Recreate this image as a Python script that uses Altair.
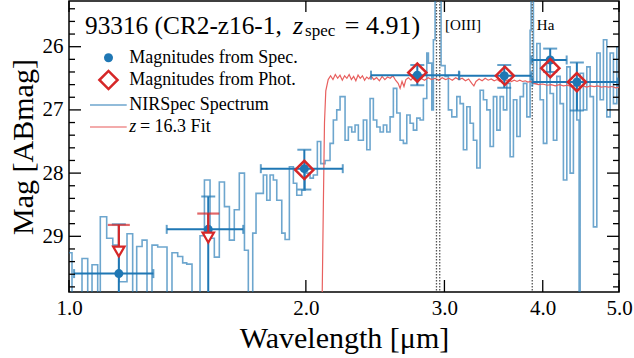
import altair as alt
import pandas as pd

FONT = "Liberation Serif"
W, H = 550, 291
XDOM = [1.0, 5.0]
YDOM = [25.277, 29.881]
BLUE = "#1f77b4"
RED = "#d62728"
FITC = "#e8605f"

# ---------------- data ----------------
spec_wave = [0.97, 1.0088, 1.0388, 1.0563, 1.0697, 1.0876, 1.0959, 1.1166, 1.1367, 1.1576,
             1.185, 1.2048, 1.2191, 1.2385, 1.2564, 1.2749, 1.2964, 1.3322, 1.3517, 1.3745,
             1.3947, 1.4113, 1.4333, 1.4673, 1.4863, 1.511, 1.530, 1.5525, 1.576, 1.599,
             1.622, 1.646, 1.671, 1.690, 1.712, 1.7286, 1.766, 1.7837, 1.801, 1.8185,
             1.8367, 1.8638, 1.8819, 1.9057, 1.9281, 1.9474, 1.9761, 1.9953, 2.0246, 2.0442,
             2.0683, 2.089, 2.1155, 2.1466, 2.1674, 2.1891, 2.2104, 2.243, 2.2648, 2.2874,
             2.3096, 2.332, 2.3664, 2.3901, 2.4133, 2.4367, 2.4611, 2.485, 2.5091, 2.5342,
             2.5588, 2.5836, 2.6095, 2.6348, 2.6604, 2.687, 2.7131, 2.7394, 2.7668, 2.7937,
             2.8208, 2.849, 2.8624, 2.891, 2.9046, 2.9191, 2.9706, 3.0058, 3.0348, 3.0652,
             3.1105, 3.1407, 3.1712, 3.2029, 3.234, 3.2654, 3.298, 3.3301, 3.3624, 3.396,
             3.429, 3.4623, 3.4969, 3.5309, 3.5652, 3.6008, 3.6358, 3.6711, 3.7078, 3.7438,
             3.7802, 3.818, 3.8547, 3.866, 3.8921, 3.931, 3.9692, 4.0077, 4.0478, 4.0871,
             4.1268, 4.1681, 4.2085, 4.2494, 4.2919, 4.3335, 4.3755, 4.4193, 4.4492, 4.4623,
             4.5055, 4.5506, 4.5948, 4.6394, 4.6858, 4.7313, 4.7772, 4.825, 4.8718, 4.9191,
             4.9683, 5.05]
spec_mag = [29.26, 31.0, 29.35, 31.0, 29.45, 31.0, 28.69, 29.03, 29.14, 29.72,
            28.96, 31.0, 29.16, 29.06, 31.0, 29.14, 29.17, 31.0, 29.26, 29.32,
            29.42, 29.44, 31.0, 28.99, 28.11, 29.03, 29.33, 28.14, 28.53, 29.06,
            28.58, 28.0, 29.22, 31.0, 28.95, 28.32, 28.03, 28.43, 28.03, 28.11,
            28.43, 28.95, 29.05, 27.90, 28.16, 28.35, 28.27, 28.0, 28.08, 28.03,
            27.50, 27.85, 27.80, 27.53, 27.16, 27.0, 26.79, 27.48, 27.27, 27.35,
            27.24, 27.48, 27.16, 27.63, 26.82, 27.16, 27.27, 27.35, 27.24, 27.35,
            27.11, 26.66, 27.05, 27.48, 27.53, 27.08, 27.21, 27.32, 27.13, 27.16,
            26.82, 26.10, 26.26, 27.0, 25.89, 24.5, 26.3, 26.47, 27.0, 27.11,
            26.79, 26.90, 27.63, 26.95, 27.21, 27.48, 27.92, 26.69, 26.84, 27.0,
            27.58, 26.79, 27.32, 26.79, 27.0, 26.58, 27.74, 26.84, 27.42, 26.79,
            26.58, 27.11, 25.74, 24.5, 26.58, 25.95, 26.84, 27.53, 26.26, 26.74,
            27.48, 26.47, 26.90, 28.11, 26.32, 28.0, 26.63, 27.16, 31.0, 26.42,
            27.0, 26.32, 26.79, 28.85, 26.10, 26.84, 25.89, 27.11, 26.10, 26.90,
            26.0, 26.0]

fit_wave = [2.08, 2.095, 2.105, 2.112, 2.12, 2.135, 2.15, 2.165, 2.18, 2.195, 2.21, 2.225,
            2.24, 2.255, 2.27, 2.285, 2.30, 2.315, 2.33, 2.345, 2.36, 2.375, 2.39, 2.405,
            2.42, 2.44, 2.46, 2.48, 2.50, 2.52, 2.54, 2.56, 2.58, 2.60, 2.62, 2.635, 2.65,
            2.665, 2.68, 2.70, 2.72, 2.74, 2.76, 2.78, 2.80, 2.83, 2.86, 2.89, 2.92, 2.95,
            2.98, 3.01, 3.04, 3.07, 3.10, 3.13, 3.16, 3.19, 3.22, 3.25, 3.27, 3.29, 3.32,
            3.35, 3.38, 3.41, 3.44, 3.47, 3.50, 3.53, 3.56, 3.59, 3.62, 3.65, 3.68, 3.71,
            3.74, 3.77, 3.80, 3.83, 3.86, 3.90, 3.95, 4.0, 4.05, 4.1, 4.15, 4.2, 4.25, 4.3,
            4.35, 4.4, 4.45, 4.5, 4.55, 4.6, 4.65, 4.7, 4.75, 4.8, 4.85, 4.9, 4.95, 5.0]
fit_mag = [32.0, 30.5, 28.5, 27.2, 26.7, 26.52, 26.46, 26.52, 26.44, 26.50, 26.45, 26.53,
           26.46, 26.50, 26.44, 26.52, 26.47, 26.54, 26.45, 26.50, 26.46, 26.53, 26.48, 26.51,
           26.46, 26.52, 26.49, 26.54, 26.47, 26.52, 26.48, 26.50, 26.46, 26.53, 26.58, 26.66, 26.55,
           26.63, 26.52, 26.49, 26.53, 26.48, 26.51, 26.47, 26.50, 26.53, 26.49, 26.52, 26.50, 26.53,
           26.49, 26.52, 26.50, 26.53, 26.49, 26.52, 26.50, 26.54, 26.51, 26.58, 26.62, 26.55, 26.51,
           26.54, 26.50, 26.53, 26.51, 26.54, 26.52, 26.55, 26.52, 26.54, 26.52, 26.55, 26.53, 26.55,
           26.53, 26.55, 26.54, 26.56, 26.55, 26.58, 26.60, 26.59, 26.61, 26.60, 26.62, 26.60, 26.62, 26.61,
           26.63, 26.61, 26.63, 26.62, 26.64, 26.62, 26.63, 26.62, 26.64, 26.63, 26.64, 26.63, 26.65, 26.64]

# magnitudes from spectrum (points with x and y error bars)
sp_wave = [1.157, 1.503, 1.991, 2.771, 3.574, 4.088, 4.42]
sp_mag = [29.59, 28.89, 27.93, 26.45, 26.46, 26.21, 26.56]
sp_wlo = [1.015, 1.331, 1.753, 2.42, 3.134, 3.87, 3.88]
sp_whi = [1.28, 1.665, 2.228, 3.13, 3.87, 4.29, 4.98]
sp_mtop = [28.81, 28.37, 27.63, 26.29, 26.29, 26.03, 26.25]
sp_mbot = [31.0, 31.0, 28.26, 26.61, 26.65, 26.40, 27.01]

# magnitudes from photometry
ph_wave = [1.991, 2.771, 3.58, 4.09, 4.42]
ph_mag = [27.95, 26.41, 26.46, 26.34, 26.56]
lim_wave = [1.157, 1.503]
lim_mag = [29.24, 29.02]
lim_cap = [28.82, 28.64]

line_wave = [2.931, 2.959, 3.879]

ytick_major = [26, 27, 28, 29]
ytick_minor = [25.4, 25.6, 25.8, 26.2, 26.4, 26.6, 26.8, 27.2, 27.4, 27.6, 27.8,
               28.2, 28.4, 28.6, 28.8, 29.2, 29.4, 29.6, 29.8]
xtick_major = [1.0, 2.0, 3.0, 4.0, 5.0]

# ---------------- helpers ----------------
xs = alt.Scale(type="log", domain=XDOM, nice=False)
ys = alt.Scale(domain=YDOM, reverse=True, nice=False, zero=False)
x_axis = alt.Axis(values=xtick_major, format=".1f", title="Wavelength [μm]",
                  labelFontSize=21, titleFontSize=30, labelPadding=5, titlePadding=5,
                  labelFlush=False, ticks=False, domain=False, grid=False)
y_axis = alt.Axis(values=ytick_major, format="d", title="Mag [ABmag]",
                  labelFontSize=21, titleFontSize=30, labelPadding=6, titlePadding=4,
                  ticks=False, domain=False, grid=False)


def X(f):
    return alt.X(f, type="quantitative", scale=xs, axis=x_axis)


def Y(f):
    return alt.Y(f, type="quantitative", scale=ys, axis=y_axis)


def text(wave, mag, s, size, align="left", baseline="middle", style="normal"):
    df = pd.DataFrame({"wave": [wave], "mag": [mag], "t": [s]})
    return alt.Chart(df).mark_text(font=FONT, fontSize=size, align=align, baseline=baseline,
                                   fontStyle=style, color="black").encode(
        x=X("wave"), y=Y("mag"), text="t:N")


spec_df = pd.DataFrame({"wave": spec_wave, "mag": spec_mag})
fit_df = pd.DataFrame({"wave": fit_wave, "mag": fit_mag})
sp_df = pd.DataFrame({"wave": sp_wave, "mag": sp_mag, "wlo": sp_wlo, "whi": sp_whi,
                      "mtop": sp_mtop, "mbot": sp_mbot})
ph_df = pd.DataFrame({"wave": ph_wave, "mag": ph_mag})
lim_df = pd.DataFrame({"wave": lim_wave, "mag": lim_mag, "cap": lim_cap})
line_df = pd.DataFrame({"wave": line_wave})

spectrum = alt.Chart(spec_df).mark_line(interpolate="step-after", color=BLUE, opacity=0.65,
                                        strokeWidth=1.6, clip=True).encode(
    x=X("wave"), y=Y("mag"), order="wave:Q")

fit = alt.Chart(fit_df).mark_line(color=FITC, strokeWidth=1.2, clip=True).encode(
    x=X("wave"), y=Y("mag"), order="wave:Q")

vlines = alt.Chart(line_df).mark_rule(color="#555555", strokeDash=[1.5, 1.5], strokeWidth=1.3).encode(
    x=X("wave"))

xerr = alt.Chart(sp_df).mark_rule(color=BLUE, strokeWidth=2, clip=True).encode(
    x=X("wlo"), x2="whi:Q", y=Y("mag"))
yerr = alt.Chart(sp_df).mark_rule(color=BLUE, strokeWidth=2, clip=True).encode(
    x=X("wave"), y=Y("mtop"), y2="mbot:Q")
capx_lo = alt.Chart(sp_df).mark_tick(color=BLUE, orient="vertical", size=9, thickness=2, clip=True).encode(
    x=X("wlo"), y=Y("mag"))
capx_hi = alt.Chart(sp_df).mark_tick(color=BLUE, orient="vertical", size=9, thickness=2, clip=True).encode(
    x=X("whi"), y=Y("mag"))
capy_top = alt.Chart(sp_df).mark_tick(color=BLUE, orient="horizontal", size=14, thickness=2, clip=True).encode(
    x=X("wave"), y=Y("mtop"))
capy_bot = alt.Chart(sp_df).mark_tick(color=BLUE, orient="horizontal", size=14, thickness=2, clip=True).encode(
    x=X("wave"), y=Y("mbot"))
sp_pts = alt.Chart(sp_df).mark_point(shape="circle", filled=True, size=81, color=BLUE, opacity=1).encode(
    x=X("wave"), y=Y("mag"))

lim_bar = alt.Chart(lim_df).mark_rule(color=RED, strokeWidth=2.2).encode(
    x=X("wave"), y=Y("cap"), y2="mag:Q")
lim_capm = alt.Chart(lim_df).mark_tick(color=RED, orient="horizontal", size=22, thickness=2.2).encode(
    x=X("wave"), y=Y("cap"))
lim_tri = alt.Chart(lim_df).mark_point(shape="triangle-down", filled=True, fill="white", stroke=RED,
                                       strokeWidth=2.2, size=130, opacity=1).encode(
    x=X("wave"), y=Y("mag"))
ph_pts = alt.Chart(ph_df).mark_point(shape="diamond", filled=False, size=330, strokeWidth=2.5,
                                     color=RED, opacity=1).encode(x=X("wave"), y=Y("mag"))

# inward ticks on all four sides
ymaj = pd.DataFrame({"v": ytick_major})
ymin = pd.DataFrame({"v": ytick_minor})
xmaj = pd.DataFrame({"v": xtick_major})
tk = dict(color="black", strokeWidth=1.3)
ticks = [
    alt.Chart(ymaj).mark_rule(**tk).encode(y=Y("v"), x=alt.value(0), x2=alt.value(12)),
    alt.Chart(ymaj).mark_rule(**tk).encode(y=Y("v"), x=alt.value(W - 12), x2=alt.value(W)),
    alt.Chart(ymin).mark_rule(**tk).encode(y=Y("v"), x=alt.value(0), x2=alt.value(6)),
    alt.Chart(ymin).mark_rule(**tk).encode(y=Y("v"), x=alt.value(W - 6), x2=alt.value(W)),
    alt.Chart(xmaj).mark_rule(**tk).encode(x=X("v"), y=alt.value(H - 12), y2=alt.value(H)),
    alt.Chart(xmaj).mark_rule(**tk).encode(x=X("v"), y=alt.value(0), y2=alt.value(11)),
]

# legend (drawn inside the axes, in data coordinates)
leg_sym_x = 1.1225
leg_line_x = [1.0634, 1.184]
leg_text_x = 1.193
leg_rows = [26.174, 26.527, 26.922, 27.27]
leg = [
    alt.Chart(pd.DataFrame({"wave": [leg_sym_x], "mag": [leg_rows[0]]})).mark_point(
        shape="circle", filled=True, size=81, color=BLUE, opacity=1).encode(x=X("wave"), y=Y("mag")),
    alt.Chart(pd.DataFrame({"wave": [leg_sym_x], "mag": [leg_rows[1]]})).mark_point(
        shape="diamond", filled=False, size=330, strokeWidth=2.5, color=RED, opacity=1).encode(
        x=X("wave"), y=Y("mag")),
    alt.Chart(pd.DataFrame({"a": [leg_line_x[0]], "b": [leg_line_x[1]], "mag": [leg_rows[2]]})).mark_rule(
        color=BLUE, opacity=0.65, strokeWidth=1.6).encode(x=X("a"), x2="b:Q", y=Y("mag")),
    alt.Chart(pd.DataFrame({"a": [leg_line_x[0]], "b": [leg_line_x[1]], "mag": [leg_rows[3]]})).mark_rule(
        color=FITC, opacity=0.7, strokeWidth=1.6).encode(x=X("a"), x2="b:Q", y=Y("mag")),
    text(leg_text_x, leg_rows[0], "Magnitudes from Spec.", 18),
    text(leg_text_x, leg_rows[1], "Magnitudes from Phot.", 18),
    text(leg_text_x, leg_rows[2], "NIRSpec Spectrum", 18),
    text(leg_text_x, leg_rows[3], "z", 18, style="italic"),
    text(1.2308, leg_rows[3], "= 16.3 Fit", 18),
]

titles = [
    text(1.048, 25.804, "93316 (CR2-z16-1,", 25.3, baseline="alphabetic"),
    text(1.9264, 25.804, "z", 26, baseline="alphabetic", style="italic"),
    text(1.9953, 25.835, "spec", 17, baseline="alphabetic"),
    text(2.7937, 25.804, "= 4.91)", 26, align="right", baseline="alphabetic"),
    text(3.0058, 25.657, "[OIII]", 15),
    text(3.931, 25.657, "Ha", 15),
]

chart = alt.layer(
    spectrum, fit, vlines, xerr, yerr, capx_lo, capx_hi, capy_top, capy_bot, sp_pts,
    ph_pts, lim_bar, lim_capm, lim_tri, *ticks, *leg, *titles
).properties(
    width=W, height=H,
    padding={"left": 69, "top": 1, "right": 15, "bottom": 66},
    autosize=alt.AutoSizeParams(type="none"),
).configure_view(stroke="black", strokeWidth=1.5).configure_axis(
    labelFont=FONT, titleFont=FONT, labelColor="black", titleColor="black",
    titleFontWeight="normal"
)

chart.save("out.html", embed_options={"renderer": "svg", "actions": False})
